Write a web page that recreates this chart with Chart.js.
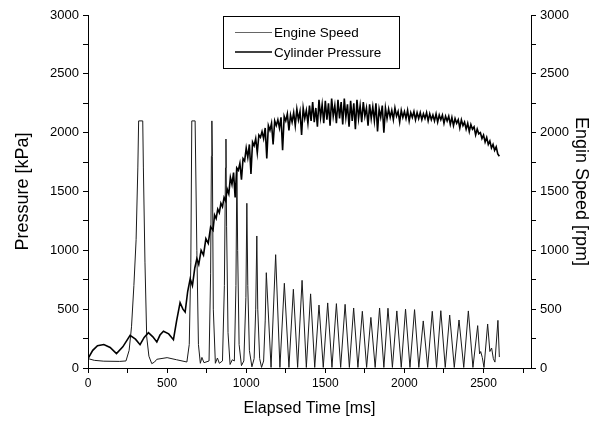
<!DOCTYPE html>
<html>
<head>
<meta charset="utf-8">
<script src="https://cdn.jsdelivr.net/npm/chart.js@4.4.1/dist/chart.umd.min.js"></script>
<style>
  html, body { margin: 0; padding: 0; background: #fff; }
  #wrap { width: 598px; height: 424px; }
</style>
</head>
<body>
<div id="wrap"><canvas id="chart" width="598" height="424"></canvas></div>
<script>
const timeTicks = [0, 250, 500, 750, 1000, 1250, 1500, 1750, 2000, 2250, 2500, 2750];
const valueTicks = [0, 250, 500, 750, 1000, 1250, 1500, 1750, 2000, 2250, 2500, 2750, 3000];

// engine speed, cranking part [ms, rpm]
const speedEarly = [
    [0, 80], [30, 150], [60, 190], [100, 200], [140, 175], [180, 122], [220, 180], [266, 278],
    [300, 245], [329, 198], [355, 260], [382, 300], [410, 265], [435, 221], [455, 280], [477, 312],
    [510, 290], [540, 241], [560, 400], [582, 555], [600, 500], [614, 476], [630, 650], [646, 759],
    [660, 700], [675, 850], [688, 929], [700, 880], [715, 1000], [730, 960], [745, 1100], [760, 1060],
    [775, 1200], [790, 1170]
];
// engine speed after 800 ms, one reading every 10 ms
const speedStart = 800;
const speedStep = 10;
const speedNoisy = [
    1300, 1270, 1350, 1320, 1400, 1370, 1450, 1420, 1520, 1480,
    1620, 1560, 1660, 1450, 1700, 1680, 1740, 1600, 1780, 1760,
    1870, 1790, 1900, 1650, 1920, 1890, 1950, 1830, 1980, 1960,
    2010, 1950, 2040, 1780, 2060, 2020, 2080, 1900, 2100, 2060,
    2110, 2040, 2130, 1850, 2140, 2100, 2160, 2020, 2150, 2090,
    2170, 2060, 2200, 2110, 2180, 1980, 2210, 2120, 2190, 2080,
    2230, 2100, 2260, 2090, 2210, 2050, 2280, 2130, 2240, 2080,
    2270, 2110, 2250, 2060, 2290, 2140, 2230, 2080, 2280, 2120,
    2260, 2070, 2290, 2130, 2240, 2050, 2270, 2100, 2250, 2030,
    2280, 2120, 2230, 2090, 2260, 2140, 2210, 2060, 2240, 2120,
    2220, 2100, 2250, 2010, 2200, 2130, 2230, 2000, 2210, 2120,
    2200, 2130, 2190, 2110, 2210, 2140, 2180, 2090, 2190, 2130,
    2180, 2120, 2190, 2100, 2170, 2130, 2180, 2110, 2170, 2120,
    2170, 2110, 2160, 2120, 2170, 2100, 2160, 2110, 2150, 2100,
    2160, 2090, 2150, 2110, 2150, 2080, 2140, 2100, 2140, 2070,
    2130, 2060, 2120, 2080, 2110, 2040, 2110, 2060, 2090, 2030,
    2080, 2010, 2070, 2030, 2050, 1980, 2030, 1990, 2000, 1950,
    1980, 1920, 1960, 1900, 1930, 1870, 1900, 1850, 1880, 1820,
    1800
];
// cylinder pressure [ms, kPa]
const pressure = [
    [0, 80], [40, 65], [100, 58], [200, 56], [240, 60], [260, 150], [275, 350], [290, 700],
    [304, 1090], [315, 1700], [320, 2100], [346, 2100], [350, 1700], [360, 900], [371, 266],
    [385, 100], [403, 37], [420, 50], [435, 74], [500, 88], [560, 70], [625, 51], [640, 200],
    [650, 900], [656, 2100], [677, 2100], [688, 1000], [698, 200], [710, 40], [720, 90],
    [733, 45], [765, 60], [775, 800], [780, 1800], [783, 2100], [786, 1800], [792, 500],
    [805, 40], [818, 85], [830, 40], [850, 60], [862, 700], [869, 1700], [872, 1946],
    [876, 1200], [885, 300], [898, 30], [912, 70], [925, 60], [935, 700], [941, 1690],
    [946, 1000], [955, 200], [970, 20], [985, 60], [998, 600], [1004, 1400], [1010, 700],
    [1020, 150], [1036, 10], [1050, 80], [1060, 500], [1067, 1122], [1073, 500], [1085, 80],
    [1097, 5], [1110, 60], [1120, 400], [1127, 810], [1157, 5], [1186, 963], [1213, 5],
    [1241, 720], [1270, 5], [1298, 669], [1325, 5], [1353, 745], [1380, 5], [1407, 630],
    [1433, 5], [1460, 535], [1487, 5], [1515, 553], [1542, 5], [1570, 547], [1597, 5],
    [1625, 541], [1652, 5], [1679, 510], [1706, 5], [1734, 482], [1761, 5], [1788, 430],
    [1815, 5], [1843, 510], [1870, 5], [1896, 508], [1924, 5], [1952, 485], [1980, 5],
    [2007, 500], [2035, 5], [2064, 496], [2091, 5], [2119, 400], [2147, 5], [2176, 482],
    [2203, 5], [2230, 487], [2258, 5], [2286, 450], [2315, 5], [2345, 408], [2375, 5],
    [2404, 485], [2433, 5], [2463, 360], [2475, 120], [2482, 140], [2492, 90], [2503, 5],
    [2526, 374], [2540, 140], [2551, 170], [2562, 80], [2572, 50], [2591, 405], [2600, 93]
];

const speedPoints = speedEarly.map(p => ({ x: p[0], y: p[1] }));
speedNoisy.forEach((v, i) => speedPoints.push({ x: speedStart + i * speedStep, y: v }));
const pressurePoints = pressure.map(p => ({ x: p[0], y: p[1] }));

const FONT = "'Liberation Sans', Arial, sans-serif";

// legend drawn inside the plot with a frame
const boxLegend = {
    id: "boxLegend",
    afterDraw(chart) {
        const ctx = chart.ctx;
        ctx.save();
        ctx.fillStyle = "#fff";
        ctx.fillRect(223, 16, 176, 52);
        ctx.strokeStyle = "#000";
        ctx.lineWidth = 1;
        ctx.strokeRect(223.5, 16.5, 176, 52);
        chart.data.datasets.forEach((ds, i) => {
            const y = 32.5 + i * 19.5;
            ctx.beginPath();
            ctx.strokeStyle = ds.legendColor;
            ctx.lineWidth = ds.legendWidth;
            ctx.moveTo(235, y);
            ctx.lineTo(272, y);
            ctx.stroke();
            ctx.fillStyle = "#000";
            ctx.font = "13.5px " + FONT;
            ctx.textBaseline = "middle";
            ctx.fillText(ds.label, 274, y + 1);
        });
        ctx.restore();
    }
};

const label500 = v => (Math.round(v) % 500 === 0 ? String(Math.round(v)) : "");

new Chart(document.getElementById("chart").getContext("2d"), {
    type: "line",
    data: {
        datasets: [
            {
                label: "Engine Speed",
                data: speedPoints,
                yAxisID: "y1",
                borderColor: "#000",
                borderWidth: 1.6,
                pointRadius: 0,
                tension: 0,
                legendColor: "#666",
                legendWidth: 1
            },
            {
                label: "Cylinder Pressure",
                data: pressurePoints,
                yAxisID: "y",
                borderColor: "#1a1a1a",
                borderWidth: 1,
                pointRadius: 0,
                tension: 0,
                legendColor: "#000",
                legendWidth: 1.4
            }
        ]
    },
    options: {
        responsive: false,
        animation: false,
        layout: { padding: { top: 15, left: 0, right: 0, bottom: 0 } },
        plugins: { legend: { display: false }, tooltip: { enabled: false } },
        scales: {
            x: {
                type: "linear",
                min: 0,
                max: 2800,
                grid: { drawOnChartArea: false, tickLength: 5, color: "#000" },
                border: { display: true, color: "#000", width: 1 },
                afterFit: s => { s.height = 56; },
                afterBuildTicks: s => { s.ticks = timeTicks.map(v => ({ value: v })); },
                ticks: {
                    autoSkip: false, maxRotation: 0, padding: 3,
                    color: "#000", font: { family: FONT, size: 12 },
                    callback: label500
                },
                title: {
                    display: true, text: "Elapsed Time [ms]", color: "#000",
                    font: { family: FONT, size: 16 }, padding: { top: 0, bottom: 6 }
                }
            },
            y: {
                type: "linear",
                position: "left",
                min: 0,
                max: 3000,
                grid: { drawOnChartArea: false, tickLength: 5, color: "#000" },
                border: { display: true, color: "#000", width: 1 },
                afterFit: s => { s.width = 88; },
                afterBuildTicks: s => { s.ticks = valueTicks.map(v => ({ value: v })); },
                ticks: {
                    autoSkip: false, padding: 4,
                    color: "#000", font: { family: FONT, size: 13 },
                    callback: label500
                },
                title: {
                    display: true, text: "Pressure [kPa]", color: "#000",
                    font: { family: FONT, size: 18 }, padding: { top: 12, bottom: 0 }
                }
            },
            y1: {
                type: "linear",
                position: "right",
                min: 0,
                max: 3000,
                grid: { drawOnChartArea: false, tickLength: 5, color: "#000" },
                border: { display: true, color: "#000", width: 1 },
                afterFit: s => { s.width = 67; },
                afterBuildTicks: s => { s.ticks = valueTicks.map(v => ({ value: v })); },
                ticks: {
                    autoSkip: false, padding: 4,
                    color: "#000", font: { family: FONT, size: 13 },
                    callback: label500
                },
                title: {
                    display: true, text: "Engin Speed [rpm]", color: "#000",
                    font: { family: FONT, size: 18 }, padding: { top: 6, bottom: 0 }
                }
            }
        }
    },
    plugins: [boxLegend]
});
</script>
</body>
</html>
